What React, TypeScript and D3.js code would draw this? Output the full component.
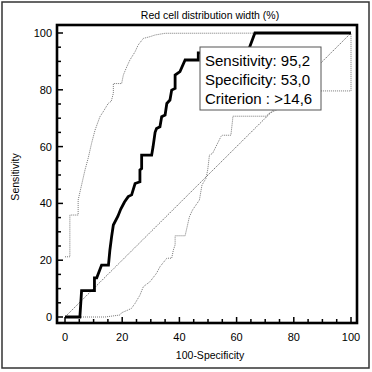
import React from 'react';
import * as d3 from 'd3';

// ROC curve for red cell distribution width
const rocCurve: [number, number][] = [
  [0, 0], [5.2, 0], [5.8, 9.3], [10.3, 9.3], [10.3, 13.8], [11.1, 13.8],
  [12.8, 18.3], [15.2, 18.3], [15.7, 23.6], [16.3, 28.3], [16.9, 32.4],
  [18.5, 35.5], [19.5, 38], [20.8, 40.5], [22.1, 42.4], [23.3, 43],
  [24.5, 47], [26.2, 47.6], [26.2, 51.8], [26.8, 52.3], [26.8, 57],
  [30.3, 57], [30.8, 60], [31.5, 65], [32, 66.4], [33.2, 67], [33.8, 70.5],
  [35, 71.1], [35.6, 75.2], [36.7, 76.4], [37.3, 79.9], [38.5, 80.5],
  [38.5, 85.2], [40.2, 86.4], [42, 90.5], [46.6, 90.5], [46.6, 93],
  [63.8, 93], [66.4, 100], [100, 100],
];

const upperCI: [number, number][] = [
  [0, 21.2], [1.7, 21.2], [1.7, 35.9], [4.6, 35.9], [4.6, 41.2], [5.8, 46.5],
  [7, 51.8], [8.1, 55.9], [9.3, 61.2], [10.5, 65.8], [12.2, 70.5],
  [13.5, 72.5], [15.1, 75.2], [16.2, 76], [16.9, 78.8], [16.9, 82.2],
  [19.8, 82.2], [20.4, 85.2], [21.6, 88.1], [22.7, 90.5], [24.5, 93.4],
  [25.6, 95.8], [27.4, 98.1], [29.7, 98.7], [31.5, 99.3], [35, 99.9],
  [100, 100],
];

const lowerCI: [number, number][] = [
  [0, 0], [14, 0], [19.2, 0.7], [19.8, 1.5], [22.1, 2.5], [23.2, 3],
  [24.5, 4.8], [26.2, 7.7], [27.4, 10.7], [29.7, 12.4], [32, 15.4],
  [33.2, 17.7], [35.6, 20.7], [37.3, 20.7], [37.9, 23.6], [38.5, 25.4],
  [38.5, 28.6], [42, 28.6], [43.5, 35.3], [44.6, 37.7], [47, 41.2],
  [47.9, 46.5], [49.3, 48.8], [49.9, 51.8], [50.5, 57], [51.6, 57.6],
  [54.5, 63.5], [55, 64], [58, 64], [58.6, 69.4], [58.7, 70.7],
  [70.6, 70.7], [71, 71.5], [76.2, 74], [80, 76.5], [85, 79.6],
  [100, 79.6], [100, 100],
];

const diagonal: [number, number][] = [[0, 0], [100, 100]];

const majorTicks = [0, 20, 40, 60, 80, 100];
const minorTicks = d3.range(0, 101, 5);

const legendLines = ['Sensitivity: 95,2', 'Specificity: 53,0', 'Criterion : >14,6'];

const font = '"Liberation Sans", Arial, sans-serif';

const App = () => {
  const x = d3.scaleLinear().domain([0, 100]).range([65, 351]);
  const y = d3.scaleLinear().domain([0, 100]).range([317, 33]);
  const line = d3.line<[number, number]>().x(d => x(d[0])).y(d => y(d[1]));

  const frame = { x0: 57, y0: 25, x1: 357, y1: 323 };

  return (
    <svg width={372} height={372} style={{ position: 'absolute', left: 0, top: 0, background: '#fff' }}>
      <rect x={2} y={2} width={367} height={366} fill="#fff" stroke="#333" strokeWidth={1.5} />

      <text x={210} y={19} textAnchor="middle" fontFamily={font} fontSize={10.5}>
        Red cell distribution width (%)
      </text>

      {/* data */}
      <path d={line(diagonal) || ''} fill="none" stroke="#777" strokeWidth={1} strokeDasharray="1.5,1" />
      <path d={line(upperCI) || ''} fill="none" stroke="#777" strokeWidth={1} strokeDasharray="1,1" />
      <path d={line(lowerCI) || ''} fill="none" stroke="#777" strokeWidth={1} strokeDasharray="1,1" />
      <path d={line(rocCurve) || ''} fill="none" stroke="#000" strokeWidth={2.8} strokeLinejoin="miter" />

      {/* frame */}
      <rect x={frame.x0} y={frame.y0} width={frame.x1 - frame.x0} height={frame.y1 - frame.y0}
        fill="none" stroke="#000" strokeWidth={2.6} />

      {/* ticks */}
      {minorTicks.map(t => {
        const major = majorTicks.includes(t);
        const len = major ? 6 : 4;
        return (
          <g key={t}>
            <line x1={frame.x0} x2={frame.x0 + len} y1={y(t)} y2={y(t)} stroke="#000" strokeWidth={1.5} />
            <line x1={x(t)} x2={x(t)} y1={frame.y1} y2={frame.y1 - len} stroke="#000" strokeWidth={1.5} />
          </g>
        );
      })}
      {majorTicks.map(t => (
        <g key={'l' + t} fontFamily={font} fontSize={11}>
          <text x={52} y={y(t) + 4} textAnchor="end">{t}</text>
          <text x={x(t)} y={341} textAnchor="middle">{t}</text>
        </g>
      ))}

      <text x={210} y={359} textAnchor="middle" fontFamily={font} fontSize={10.5}>100-Specificity</text>
      <text transform="translate(19,177) rotate(-90)" textAnchor="middle" fontFamily={font} fontSize={10.5}>
        Sensitivity
      </text>

      {/* legend */}
      <rect x={200} y={47} width={121} height={63} fill="#fff" stroke="#555" strokeWidth={1} />
      {legendLines.map((s, i) => (
        <text key={s} x={205} y={65.5 + i * 19} fontFamily={font} fontSize={15}>{s}</text>
      ))}
    </svg>
  );
};

export default App;
